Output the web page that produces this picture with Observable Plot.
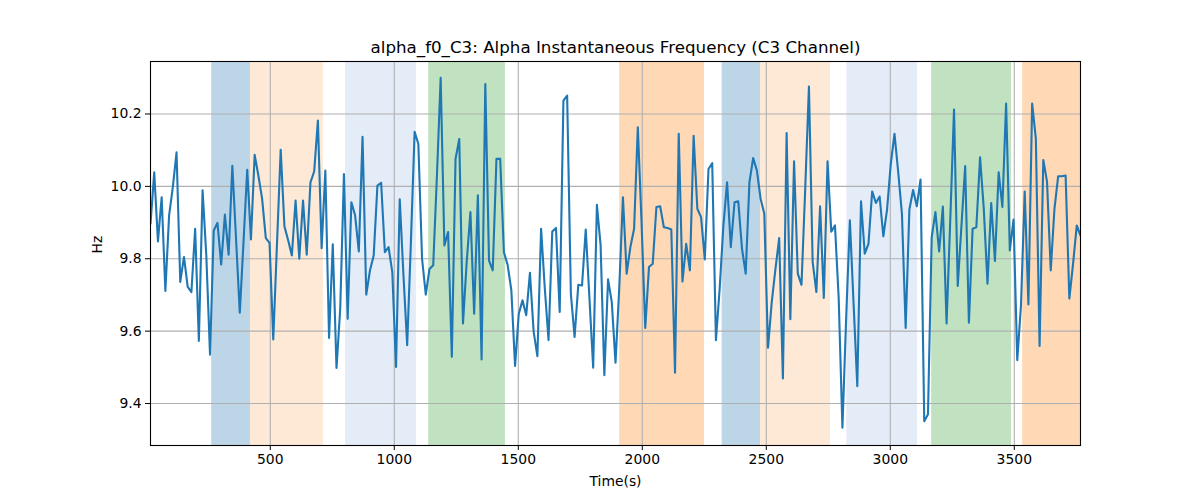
<!DOCTYPE html>
<html>
<head>
<meta charset="utf-8">
<script src="https://cdn.jsdelivr.net/npm/d3@7"></script>
<script src="https://cdn.jsdelivr.net/npm/@observablehq/plot@0.6"></script>
<style>
  html, body { margin: 0; padding: 0; background: #fff; }
  #chart { width: 1200px; height: 500px; }
</style>
</head>
<body>
<div id="chart"></div>
<script>
const titleText = "alpha_f0_C3: Alpha Instantaneous Frequency (C3 Channel)";
const xLabel = "Time(s)";
const yLabel = "Hz";
const startTime = 17;
const timeStep = 15;
const values = [
  9.897, 10.039, 9.848, 9.970, 9.711, 9.920, 9.998, 10.094, 9.736, 9.805,
  9.722, 9.708, 9.883, 9.573, 9.989, 9.809, 9.535, 9.878, 9.899, 9.784,
  9.922, 9.811, 10.057, 9.854, 9.651, 9.846, 10.046, 9.853, 10.087, 10.030,
  9.966, 9.857, 9.844, 9.577, 9.841, 10.101, 9.890, 9.851, 9.809, 9.961,
  9.800, 9.961, 9.811, 10.011, 10.041, 10.182, 9.829, 10.044, 9.581, 9.840,
  9.498, 9.662, 10.034, 9.634, 9.956, 9.920, 9.820, 10.137, 9.701, 9.768,
  9.809, 10.002, 10.010, 9.818, 9.832, 9.763, 9.501, 9.964, 9.754, 9.561,
  9.846, 10.151, 10.117, 9.800, 9.701, 9.772, 9.782, 10.030, 10.300, 9.837,
  9.874, 9.529, 10.076, 10.131, 9.621, 9.791, 9.929, 9.648, 9.975, 9.522,
  10.283, 9.795, 9.768, 10.076, 10.076, 9.818, 9.783, 9.713, 9.504, 9.648,
  9.685, 9.644, 9.761, 9.598, 9.531, 9.883, 9.717, 9.575, 9.875, 9.885,
  9.653, 10.237, 10.251, 9.703, 9.584, 9.728, 9.726, 9.881, 9.690, 9.499,
  9.949, 9.837, 9.478, 9.743, 9.680, 9.513, 9.717, 9.970, 9.759, 9.832,
  9.883, 10.163, 9.901, 9.609, 9.777, 9.786, 9.943, 9.945, 9.887, 9.885,
  9.881, 9.485, 10.145, 9.737, 9.841, 9.768, 10.140, 9.938, 9.915, 9.798,
  10.048, 10.064, 9.575, 9.717, 9.892, 10.011, 9.832, 9.956, 9.959, 9.828,
  9.759, 10.011, 10.078, 10.044, 9.966, 9.924, 9.554, 9.680, 9.772, 9.857,
  9.469, 10.147, 9.633, 10.069, 9.759, 9.728, 9.993, 10.276, 9.791, 9.708,
  9.945, 9.692, 10.069, 9.875, 9.892, 9.690, 9.333, 9.634, 9.906, 9.676,
  9.448, 9.959, 9.814, 9.841, 9.986, 9.954, 9.972, 9.862, 9.936, 10.062,
  10.145, 10.039, 9.924, 9.609, 9.936, 9.990, 9.945, 10.019, 9.351, 9.370,
  9.860, 9.929, 9.820, 9.944, 9.621, 9.910, 10.212, 9.725, 9.892, 10.056,
  9.623, 9.883, 9.887, 10.080, 9.938, 9.731, 9.954, 9.794, 10.039, 9.943,
  10.229, 9.823, 9.908, 9.520, 9.671, 9.986, 9.674, 10.229, 10.131, 9.559,
  10.073, 10.013, 9.768, 9.938, 10.028, 10.028, 10.030, 9.690, 9.786, 9.892,
  9.864
];
const spanStarts = [266, 422, 806, 1141, 1911, 2324, 2479, 2827, 3169, 3536];
const spanEnds   = [422, 712, 1087, 1446, 2249, 2479, 2757, 3108, 3487, 3800];
const spanColors = ["#bcd6e8", "#fee9d6", "#e4ecf7", "#c0e2c0", "#ffd8b5",
                    "#bcd6e8", "#fee9d6", "#e4ecf7", "#c0e2c0", "#ffd8b5"];
const xTicks = [500, 1000, 1500, 2000, 2500, 3000, 3500];
const yTicks = [9.4, 9.6, 9.8, 10.0, 10.2];

const series = values.map((v, i) => ({t: startTime + i * timeStep, v}));
const spans = spanStarts.map((s, i) => ({x1: s, x2: spanEnds[i], fill: spanColors[i]}));
const xDomain = [series[0].t, series[series.length - 1].t];

const chart = Plot.plot({
  width: 1200,
  height: 500,
  marginLeft: 150,
  marginRight: 120,
  marginTop: 61,
  marginBottom: 55,
  style: {fontFamily: "DejaVu Sans", fontSize: "13.9px", color: "#000", background: "#fff"},
  x: {domain: xDomain, ticks: xTicks, tickFormat: d => String(d), label: null},
  y: {domain: [9.284, 10.345], ticks: yTicks, tickFormat: d => d.toFixed(1), label: null},
  marks: [
    Plot.rect(spans, {x1: "x1", x2: "x2", fill: "fill", stroke: "fill", strokeWidth: 1, clip: true}),
    Plot.gridX(xTicks, {stroke: "#b0b0b0", strokeOpacity: 1, strokeWidth: 1.1}),
    Plot.gridY(yTicks, {stroke: "#b0b0b0", strokeOpacity: 1, strokeWidth: 1.1}),
    Plot.line(series, {x: "t", y: "v", stroke: "#1f77b4", strokeWidth: 2.1, clip: true}),
    Plot.frame({stroke: "#000", strokeWidth: 1.1}),
    Plot.axisX(xTicks, {tickSize: 5, tickPadding: 4, tickFormat: d => String(d), label: null, fontSize: "13.9px"}),
    Plot.axisY(yTicks, {tickSize: 5, tickPadding: 4, tickFormat: d => d.toFixed(1), label: null, fontSize: "13.9px"}),
    Plot.text([titleText], {frameAnchor: "top", dy: -14, fontSize: "16.7px", fill: "#000", lineAnchor: "middle"}),
    Plot.text([xLabel], {frameAnchor: "bottom", dy: 36, fontSize: "13.9px", fill: "#000", lineAnchor: "middle"}),
    Plot.text([yLabel], {frameAnchor: "left", dx: -53, rotate: -90, fontSize: "13.9px", fill: "#000", lineAnchor: "middle"})
  ]
});
document.getElementById("chart").appendChild(chart);
</script>
</body>
</html>
